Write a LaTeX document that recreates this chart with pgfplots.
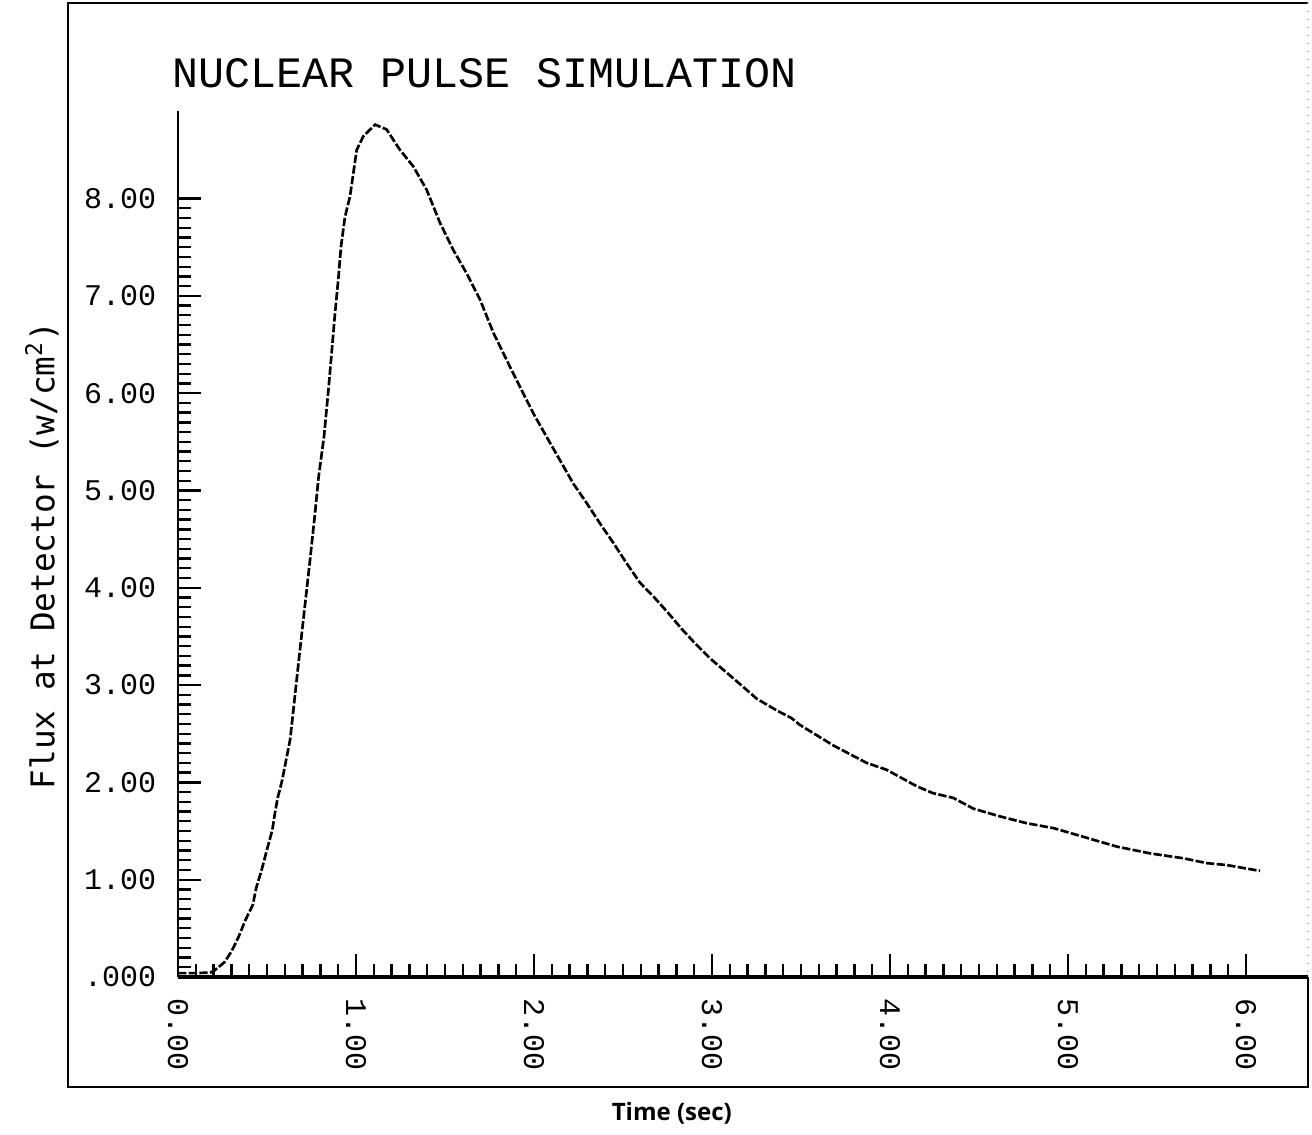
\documentclass[border=0pt]{standalone}
\usepackage{pgfplots}
\pgfplotsset{compat=1.18}
\usepackage{pgfplotstable}
\usepackage{fontspec}
\setmainfont{Liberation Mono}
\newfontfamily\plotfont{Liberation Mono}
\newfontfamily\labfont{DejaVu Sans Mono}
\newfontfamily\timefont{Open Sans}

\pgfplotstableread{
t v
0.00 0.04
0.10 0.04
0.18 0.045
0.20 0.06
0.26 0.15
0.30 0.26
0.34 0.41
0.38 0.59
0.42 0.74
0.44 0.92
0.47 1.10
0.50 1.31
0.53 1.51
0.545 1.69
0.56 1.84
0.585 2.02
0.63 2.44
0.685 3.36
0.742 4.29
0.77 4.77
0.79 5.14
0.82 5.55
0.845 6.03
0.863 6.41
0.882 6.82
0.90 7.16
0.916 7.51
0.938 7.81
0.966 8.02
0.985 8.26
1.004 8.50
1.041 8.64
1.107 8.76
1.172 8.71
1.247 8.50
1.322 8.33
1.397 8.09
1.472 7.75
1.547 7.47
1.622 7.23
1.697 6.96
1.772 6.62
1.884 6.20
1.997 5.79
2.071 5.55
2.146 5.31
2.221 5.07
2.296 4.87
2.371 4.66
2.446 4.46
2.521 4.25
2.596 4.05
2.671 3.91
2.764 3.72
2.828 3.58
2.904 3.43
2.998 3.26
3.10 3.10
3.176 2.98
3.251 2.86
3.363 2.74
3.447 2.66
3.494 2.59
3.681 2.38
3.869 2.20
3.98 2.13
4.15 1.96
4.24 1.89
4.356 1.84
4.468 1.73
4.618 1.65
4.768 1.58
4.918 1.53
5.087 1.44
5.18 1.39
5.274 1.34
5.461 1.27
5.648 1.22
5.779 1.17
5.892 1.15
6.079 1.09
}\fluxdata

\begin{document}
\begin{tikzpicture}
\begin{axis}[
  scale only axis,
  width=339pt, height=259.8pt,
  xmin=0, xmax=6.348,
  ymin=0, ymax=8.9,
  axis x line=bottom, axis y line=left,
  axis line style={-},
  x axis line style={line width=1.2pt},
  y axis line style={line width=0.4pt},
  tick align=inside,
  major tick length=6.8pt, minor tick length=3.8pt,
  every tick/.style={black, line width=0.7pt},
  xtick={0,1,2,3,4,5,6},
  xticklabels={0.00,1.00,2.00,3.00,4.00,5.00,6.00},
  ytick={0,1,2,3,4,5,6,7,8},
  yticklabels={.000,1.00,2.00,3.00,4.00,5.00,6.00,7.00,8.00},
  minor x tick num=9,
  minor y tick num=9,
  ticklabel style={font=\plotfont\fontsize{9}{9}\selectfont},
  xticklabel style={rotate=-90, anchor=west, xshift=3pt},
  yticklabel style={anchor=east, xshift=-3pt},
  clip=false,
]
\addplot[black, line width=0.8pt, dash pattern=on 2.5pt off 0.7pt] table[x=t, y=v] {\fluxdata};

% outer frame
\draw[line width=0.6pt] (rel axis cs:1,0) -- (rel axis cs:1,-0.127) -- (rel axis cs:-0.0973,-0.127) -- (rel axis cs:-0.0973,1.1247) -- (rel axis cs:1,1.1247);
\draw[gray!60, line width=0.4pt, dotted] (rel axis cs:1,1.1247) -- (rel axis cs:1,0);

% title and labels
\node[anchor=base west, inner sep=0pt, font=\plotfont\fontsize{13}{13}\selectfont] at (rel axis cs:-0.0053,1.0266) {NUCLEAR PULSE SIMULATION};
\node[rotate=90, inner sep=0pt, font=\labfont\fontsize{9.8}{10}\selectfont] at (rel axis cs:-0.1204,0.487) {Flux at Detector (w/cm\textsuperscript{2})};
\node[inner sep=0pt, font=\timefont\bfseries\fontsize{7.2}{8}\selectfont] at (rel axis cs:0.437,-0.157) {Time (sec)};

% page extent
\path (rel axis cs:-0.15752,1.12818) rectangle (rel axis cs:1.00354,-0.18245);
\end{axis}
\end{tikzpicture}
\end{document}
